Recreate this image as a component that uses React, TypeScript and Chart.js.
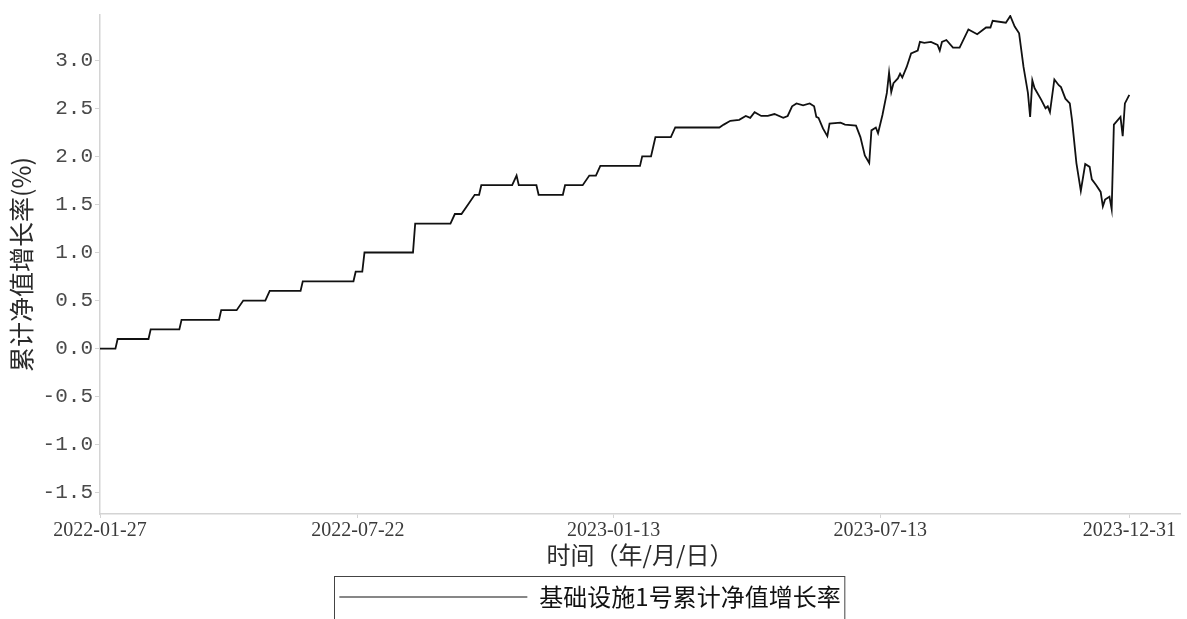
import React, { useEffect, useRef } from "react";
import { Chart, registerables } from "chart.js";

Chart.register(...registerables);

const SERIES_NAME = "基础设施1号累计净值增长率";
const X_TITLE = "时间（年/月/日）";
const Y_TITLE = "累计净值增长率(%)";

// trading-day index of each labelled date
const TICK_DAYS = [0, 117, 233, 354, 467];
const TICK_DATES = ["2022-01-27", "2022-07-22", "2023-01-13", "2023-07-13", "2023-12-31"];
const Y_TICKS = [-1.5, -1.0, -0.5, 0.0, 0.5, 1.0, 1.5, 2.0, 2.5, 3.0];

// trading-day index of each vertex of the curve
const DAYS = [
  0, 7, 8, 22, 23, 36, 37, 54, 55, 62, 65, 75, 77, 91, 92, 115, 116, 119, 120, 142,
  143, 159, 161, 164, 167, 170, 172, 173, 187, 189, 190, 198, 199, 210, 211, 219, 222, 225, 227, 245,
  246, 250, 251, 252, 259, 261, 281, 283, 286, 290, 293, 295, 297, 300, 303, 306, 310, 312, 314, 316,
  319, 322, 324, 325, 326, 328, 330, 331, 336, 338, 343, 345, 347, 349, 350, 352, 353, 355, 357, 358,
  359, 360, 362, 363, 364, 366, 368, 371, 372, 374, 377, 380, 381, 382, 384, 387, 390, 394, 398, 402,
  404, 405, 411, 413, 415, 417, 419, 421, 422, 423, 424, 427, 429, 430, 431, 433, 435, 436, 438, 440,
  441, 443, 445, 447, 449, 450, 452, 454, 455, 456, 458, 459, 460, 463, 464, 465, 467,
];
// cumulative net value growth rate (%)
const VALUES = [
  0.0, 0.0, 0.1, 0.1, 0.2, 0.2, 0.3, 0.3, 0.4, 0.4, 0.5, 0.5, 0.6, 0.6, 0.7, 0.7, 0.8, 0.8, 1.0, 1.0,
  1.3, 1.3, 1.4, 1.4, 1.5, 1.6, 1.6, 1.7, 1.7, 1.8, 1.7, 1.7, 1.6, 1.6, 1.7, 1.7, 1.8, 1.8, 1.9, 1.9,
  2.0, 2.0, 2.1, 2.2, 2.2, 2.3, 2.3, 2.33, 2.37, 2.38, 2.42, 2.4, 2.46, 2.42, 2.42, 2.44, 2.4, 2.42, 2.52, 2.55,
  2.53, 2.55, 2.52, 2.41, 2.4, 2.29, 2.21, 2.34, 2.35, 2.33, 2.32, 2.2, 2.01, 1.93, 2.27, 2.3, 2.24, 2.43, 2.66, 2.87,
  2.67, 2.76, 2.81, 2.86, 2.82, 2.93, 3.07, 3.1, 3.19, 3.18, 3.19, 3.16, 3.1, 3.19, 3.21, 3.13, 3.13, 3.32, 3.27, 3.34,
  3.34, 3.41, 3.39, 3.46, 3.35, 3.28, 2.93, 2.66, 2.41, 2.79, 2.71, 2.59, 2.5, 2.52, 2.46, 2.8, 2.74, 2.72, 2.6, 2.55,
  2.38, 1.93, 1.64, 1.92, 1.89, 1.76, 1.7, 1.63, 1.48, 1.55, 1.58, 1.45, 2.33, 2.41, 2.21, 2.55, 2.64,
];

const legendBoxPlugin = {
  id: "legendBox",
  afterDraw(chart: any) {
    const lg = chart.legend;
    if (!lg || !lg.legendHitBoxes || !lg.legendHitBoxes.length) return;
    const hb = lg.legendHitBoxes[0];
    const ctx = chart.ctx;
    ctx.save();
    ctx.strokeStyle = "#444";
    ctx.lineWidth = 1;
    ctx.strokeRect(Math.round(hb.left) - 4.5, Math.round(hb.top) - 8.5, hb.width + 9, hb.height + 40);
    ctx.restore();
  },
};

export default function App() {
  const ref = useRef<HTMLCanvasElement>(null);

  useEffect(() => {
    if (!ref.current) return;
    const points = DAYS.map((d, i) => ({ x: d, y: VALUES[i] }));
    const chart = new Chart(ref.current, {
      type: "line",
      data: {
        datasets: [
          {
            label: SERIES_NAME,
            data: points,
            borderColor: "#111",
            backgroundColor: "#111",
            borderWidth: 1.8,
            pointRadius: 0,
            tension: 0,
            fill: false,
          },
        ],
      },
      options: {
        animation: false,
        responsive: true,
        maintainAspectRatio: false,
        layout: { padding: { left: 0, right: 7, top: 15, bottom: 0 } },
        plugins: {
          tooltip: { enabled: false },
          legend: {
            display: true,
            position: "bottom",
            labels: {
              usePointStyle: true,
              pointStyle: "line",
              pointStyleWidth: 188,
              padding: 10,
              color: "#111",
              font: { family: "'Noto Sans CJK SC', sans-serif", size: 24 },
              generateLabels: (chart: any) =>
                Chart.defaults.plugins.legend.labels
                  .generateLabels(chart)
                  .map((l: any) => ({ ...l, lineWidth: 1.2 })),
            },
          },
        },
        scales: {
          x: {
            type: "linear",
            min: 0,
            max: 490,
            afterFit: (s: any) => {
              s.height = 61;
            },
            afterBuildTicks: (s: any) => {
              s.ticks = TICK_DAYS.map((v) => ({ value: v }));
            },
            ticks: {
              autoSkip: false,
              maxRotation: 0,
              padding: 1,
              color: "#3a3a3a",
              font: { family: "'Liberation Serif', serif", size: 20 },
              callback: (v: any) => {
                const i = TICK_DAYS.indexOf(Number(v));
                return i >= 0 ? TICK_DATES[i] : "";
              },
            },
            grid: { display: true, drawOnChartArea: false, tickLength: 4, color: "#d4d4d4" },
            border: { display: true, color: "#d4d4d4", width: 1.5 },
            title: {
              display: true,
              text: X_TITLE,
              color: "#2a2a2a",
              font: { family: "'Noto Sans CJK SC', sans-serif", size: 24 },
              padding: { top: 0, bottom: 6 },
            },
          },
          y: {
            type: "linear",
            min: -1.72,
            max: 3.47,
            afterFit: (s: any) => {
              s.width = 100;
            },
            afterBuildTicks: (s: any) => {
              s.ticks = Y_TICKS.map((v) => ({ value: v }));
            },
            ticks: {
              padding: 2,
              color: "#4a4a4a",
              font: { family: "'Liberation Mono', monospace", size: 21 },
              callback: (v: any) => Number(v).toFixed(1),
            },
            grid: { display: true, drawOnChartArea: false, tickLength: 5, color: "#d4d4d4" },
            border: { display: true, color: "#d4d4d4", width: 1.5 },
            title: {
              display: true,
              text: Y_TITLE,
              color: "#2a2a2a",
              font: { family: "'Noto Sans CJK SC', sans-serif", size: 25 },
              padding: { top: 6, bottom: 0 },
            },
          },
        },
      },
      plugins: [legendBoxPlugin],
    });
    return () => chart.destroy();
  }, []);

  return (
    <div style={{ position: "fixed", left: 0, top: 0, width: 1187, height: 619, background: "#fff" }}>
      <canvas ref={ref} />
    </div>
  );
}
